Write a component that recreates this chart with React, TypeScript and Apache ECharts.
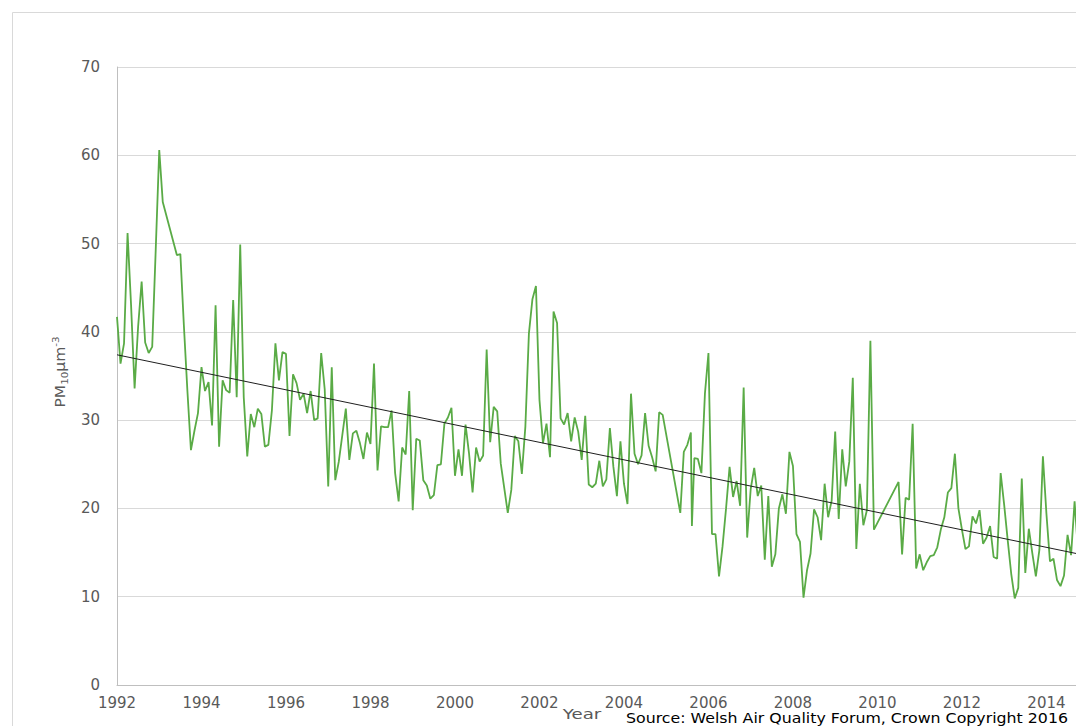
import React, { useEffect, useRef } from "react";
import * as echarts from "echarts";

// Months counted from January 1992 (gaps in the record are joined by straight lines)
const monthsFrom1992 = [
  0, 1, 2, 3, 4, 5, 6, 7, 8, 9, 10, 11,
  12, 13, 17, 18, 19, 20, 21, 22, 23,
  24, 25, 26, 27, 28, 29, 30, 31, 32, 33, 34, 35,
  36, 37, 38, 39, 40, 41, 42, 43, 44, 45, 46, 47,
  48, 49, 50, 51, 52, 53, 54, 55, 56, 57, 58, 59,
  60, 61, 62, 63, 64, 65, 66, 67, 68, 69, 70, 71,
  72, 73, 74, 75, 76, 77, 78, 79, 80, 81, 82, 83,
  84, 85, 86, 87, 88, 89, 90, 91, 92, 93, 94, 95,
  96, 97, 98, 99, 100, 101, 102, 103, 104, 105, 106, 107,
  108, 109, 110, 111, 112, 113, 114, 115, 116, 117, 118, 119,
  120, 121, 122, 123, 124, 125, 126, 127, 128, 129, 130, 131,
  132, 133, 134, 135, 136, 137, 138, 139, 140, 141, 142, 143,
  144, 145, 146, 147, 148, 149, 150, 151, 152, 153, 154, 155,
  160, 161, 162, 163, 163.3, 164, 165, 166, 167,
  168, 169, 170, 171, 172, 173, 174, 175, 176, 177, 178, 179,
  180, 181, 182, 183, 184, 185, 186, 187, 188, 189, 190, 191,
  192, 193, 194, 195, 196, 197, 198, 199, 200, 201, 202, 203,
  204, 205, 206, 207, 208, 209, 210, 211, 212, 213, 214, 215,
  222, 223, 224, 225, 226, 227,
  228, 229, 230, 231, 232, 233, 234, 235, 236, 237, 238, 239,
  240, 241, 242, 243, 244, 245, 246, 247, 248, 249, 250, 251,
  252, 253, 254, 255, 256, 257, 258, 259, 260, 261, 262, 263,
  264, 265, 266, 267, 268, 269, 270, 271, 272, 273,
];

// Monthly mean PM10 (µg/m3)
const pm10 = [
  41.7, 36.4, 38.7, 51.2, 43.0, 33.6, 40.6, 45.7, 38.8, 37.6, 38.3, 49.3,
  60.6, 54.7, 48.7, 48.8, 40.7, 33.3, 26.6, 28.8, 30.8,
  36.0, 33.3, 34.3, 29.4, 43.0, 27.0, 34.5, 33.4, 33.1, 43.6, 32.6, 49.9,
  32.6, 25.9, 30.7, 29.2, 31.3, 30.7, 27.0, 27.2, 31.1, 38.7, 34.5, 37.7,
  37.5, 28.2, 35.2, 34.2, 32.3, 33.0, 30.8, 33.3, 30.0, 30.2, 37.6, 33.5,
  22.5, 36.0, 23.2, 25.3, 28.3, 31.3, 25.5, 28.5, 28.8, 27.4, 25.6, 28.6,
  27.3, 36.4, 24.3, 29.3, 29.2, 29.2, 31.1, 24.0, 20.8, 26.9, 26.1, 33.3,
  19.8, 27.9, 27.7, 23.2, 22.6, 21.1, 21.5, 24.9, 25.0, 29.6, 30.3, 31.4,
  23.7, 26.7, 23.7, 29.5, 26.2, 21.8, 26.9, 25.3, 26.0, 38.0, 27.5, 31.5,
  31.0, 25.1, 22.3, 19.5, 22.1, 28.2, 27.6, 23.9, 29.3, 39.8, 43.7, 45.2,
  32.3, 27.4, 29.6, 25.8, 42.3, 41.0, 30.2, 29.5, 30.8, 27.6, 30.3, 28.7,
  25.5, 30.5, 22.7, 22.4, 22.8, 25.4, 22.5, 23.3, 29.1, 24.7, 21.4, 27.6,
  22.8, 20.5, 33.0, 26.2, 25.0, 26.0, 30.8, 27.1, 25.8, 24.2, 30.9, 30.6,
  19.5, 26.4, 27.2, 28.6, 18.0, 25.7, 25.6, 24.0, 33.0,
  37.6, 17.1, 17.1, 12.3, 15.7, 20.0, 24.7, 21.3, 23.1, 20.3, 33.7, 16.7,
  22.2, 24.6, 21.4, 22.6, 14.2, 21.4, 13.4, 14.8, 20.0, 21.6, 19.4, 26.4,
  24.8, 17.1, 16.2, 9.9, 13.0, 14.9, 19.9, 19.0, 16.4, 22.8, 19.0, 20.9,
  28.7, 18.8, 26.7, 22.5, 25.3, 34.8, 15.4, 22.8, 18.1, 19.8, 39.0, 17.6,
  23.0, 14.8, 21.2, 21.0, 29.6, 13.2,
  14.8, 13.0, 13.9, 14.6, 14.7, 15.6, 17.6, 19.0, 21.8, 22.3, 26.2, 20.0,
  17.6, 15.4, 15.7, 19.1, 18.3, 19.8, 16.0, 16.7, 18.0, 14.5, 14.3, 24.0,
  20.4, 16.4, 12.6, 9.8, 11.0, 23.4, 12.7, 17.7, 14.9, 12.3, 15.3, 25.9,
  19.4, 14.0, 14.3, 11.9, 11.2, 12.4, 17.0, 14.7, 20.8, 15.0,
];

// Linear trend line end points
const trendYears = [1992, 2014.7];
const trendValues = [37.4, 14.9];

const yearTicks = [1992, 1994, 1996, 1998, 2000, 2002, 2004, 2006, 2008, 2010, 2012, 2014];
const yTicks = [0, 10, 20, 30, 40, 50, 60, 70];

const xTitle = "Year";
const sourceText = "Source: Welsh Air Quality Forum, Crown Copyright 2016";

const FONT = "'DejaVu Sans', Verdana, sans-serif";

export default function App() {
  const ref = useRef<HTMLDivElement>(null);

  useEffect(() => {
    if (!ref.current) return;
    const chart = echarts.init(ref.current, null, { renderer: "svg" });
    const data = monthsFrom1992.map((m, i) => [1992 + m / 12, pm10[i]]);
    const trend = trendYears.map((y, i) => [y, trendValues[i]]);

    chart.setOption({
      animation: false,
      backgroundColor: "#ffffff",
      textStyle: { fontFamily: FONT },
      grid: { left: 117, right: 0, top: 67, bottom: 41, containLabel: false },
      xAxis: {
        type: "value",
        min: yearTicks[0],
        max: 2014.7,
        interval: 2,
        axisLine: { show: true, lineStyle: { color: "#bfbfbf", width: 1 } },
        axisTick: { show: false },
        splitLine: { show: false },
        axisLabel: {
          color: "#595959",
          fontSize: 15,
          fontFamily: FONT,
          margin: 10,
          showMaxLabel: false,
          formatter: (v: number) => (yearTicks.includes(v) ? String(v) : ""),
        },
      },
      yAxis: {
        type: "value",
        min: yTicks[0],
        max: yTicks[yTicks.length - 1],
        interval: 10,
        axisLine: { show: true, lineStyle: { color: "#bfbfbf", width: 1 } },
        axisTick: { show: false },
        splitLine: { show: true, lineStyle: { color: "#d9d9d9", width: 1 } },
        axisLabel: { color: "#595959", fontSize: 15, fontFamily: FONT, margin: 17 },
      },
      series: [
        {
          type: "line",
          data,
          symbol: "none",
          showSymbol: false,
          clip: true,
          lineStyle: { color: "#5aab46", width: 1.8 },
        },
        {
          type: "line",
          data: trend,
          symbol: "none",
          showSymbol: false,
          clip: true,
          lineStyle: { color: "#1f1f1f", width: 1 },
        },
      ],
      graphic: [
        {
          type: "rect",
          silent: true,
          z: -10,
          shape: { x: 12.5, y: 12.5, width: 1100, height: 800 },
          style: { fill: "none", stroke: "#d9d9d9", lineWidth: 1 },
        },
        {
          type: "text",
          x: 60,
          y: 372,
          rotation: Math.PI / 2,
          scaleX: 1.15,
          style: {
            text: "{a|PM}{s|10}{a|µm}{p|-3}",
            align: "center",
            verticalAlign: "middle",
            fill: "#595959",
            rich: {
              a: { fontSize: 13.5, fontFamily: FONT, fill: "#595959", lineHeight: 18, verticalAlign: "middle" },
              s: { fontSize: 9, fontFamily: FONT, fill: "#595959", lineHeight: 18, verticalAlign: "bottom" },
              p: { fontSize: 9, fontFamily: FONT, fill: "#595959", lineHeight: 18, verticalAlign: "top" },
            },
          },
        },
        {
          type: "text",
          x: 582,
          y: 714,
          scaleX: 1.3,
          style: {
            text: xTitle,
            align: "center",
            verticalAlign: "middle",
            fill: "#595959",
            font: `14px ${FONT}`,
          },
        },
        {
          type: "text",
          x: 626,
          y: 711,
          scaleX: 1.17,
          style: {
            text: sourceText,
            align: "left",
            verticalAlign: "top",
            fill: "#000000",
            font: `13.5px ${FONT}`,
          },
        },
      ],
    });

    return () => chart.dispose();
  }, []);

  return (
    <div
      ref={ref}
      style={{ position: "fixed", left: 0, top: 0, width: 1076, height: 726, background: "#fff" }}
    />
  );
}
